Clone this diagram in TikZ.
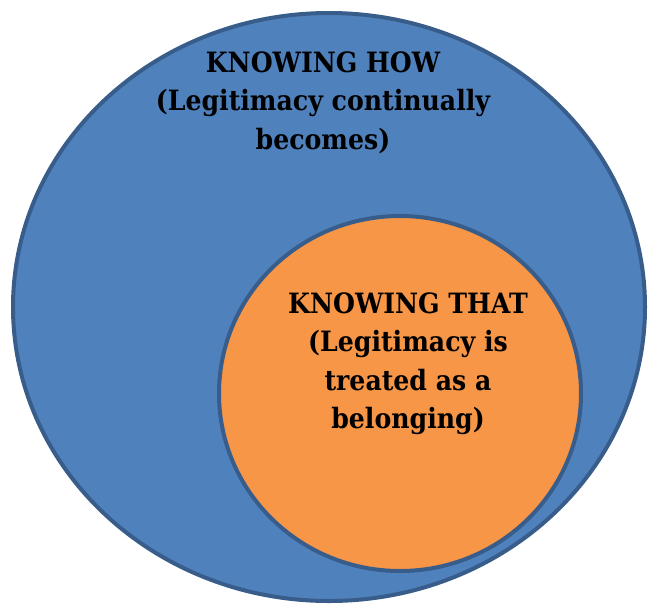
\documentclass[tikz,border=0pt]{standalone}
\usepackage{fontspec}
\setmainfont{DejaVu Serif Condensed}
\usetikzlibrary{shapes.geometric}
\definecolor{howfill}{HTML}{4F81BD}
\definecolor{ringline}{HTML}{385D8A}
\definecolor{thatfill}{HTML}{F79646}
\tikzset{
  region/.style={ellipse, draw=ringline, line width=4pt, inner sep=0pt},
  label/.style={align=center, font=\bfseries\fontsize{28}{38.5}\selectfont, text=black}
}
\begin{document}
\begin{tikzpicture}[x=1pt, y=-1pt]
  \useasboundingbox (0,0) rectangle (650,603);
  % outer region: knowing how
  \node[region, fill=howfill, minimum width=632pt, minimum height=588pt] (how) at (329,307) {};
  % inner region: knowing that
  \node[region, fill=thatfill, minimum width=362pt, minimum height=355pt] (that) at (400,393.5) {};
  \node[label] (howtext) at (323,102.5) {KNOWING HOW\\(Legitimacy continually\\becomes)};
  \node[label] (thattext) at (408,363.5) {KNOWING THAT\\(Legitimacy is\\treated as a\\belonging)};
\end{tikzpicture}
\end{document}
